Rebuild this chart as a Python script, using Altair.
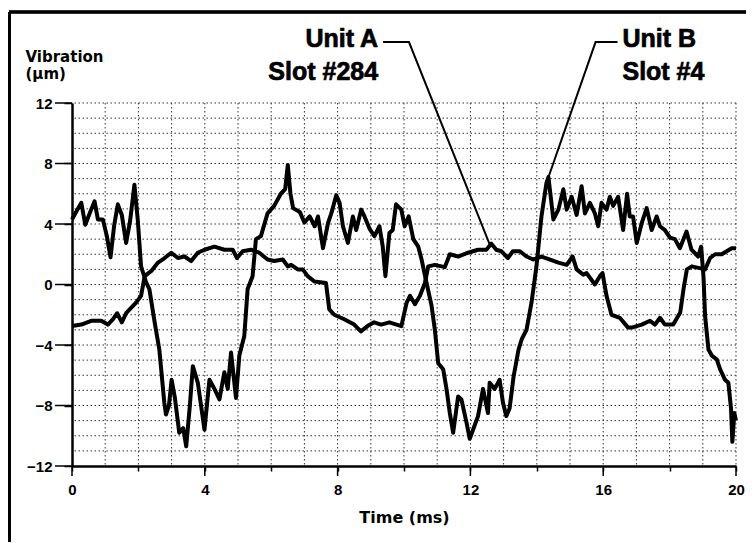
import altair as alt
import pandas as pd

# ---- Unit A, Slot #284 (smoother trace) ----
time_a = [0.0, 0.28, 0.58, 0.88, 1.08, 1.23, 1.36, 1.5, 1.63, 1.78, 1.93, 2.08, 2.19, 2.39,
          2.59, 2.79, 2.99, 3.19, 3.39, 3.59, 3.79, 3.99, 4.29, 4.59, 4.84, 4.97, 5.14, 5.39,
          5.64, 5.89, 6.09, 6.35, 6.5, 6.6, 6.8, 6.95, 7.1, 7.3, 7.65, 7.75, 7.9, 8.2, 8.5,
          8.7, 8.9, 9.1, 9.31, 9.56, 9.92, 10.08, 10.18, 10.33, 10.48, 10.63, 10.73, 10.93,
          11.23, 11.38, 11.63, 11.93, 12.23, 12.48, 12.63, 12.78, 12.93, 13.13, 13.28, 13.49,
          13.69, 13.89, 14.14, 14.4, 14.65, 14.9, 15.08, 15.2, 15.4, 15.5, 15.75, 15.9, 15.98,
          16.1, 16.25, 16.5, 16.75, 16.86, 17.16, 17.41, 17.56, 17.71, 17.86, 18.11, 18.32,
          18.42, 18.52, 18.67, 18.87, 19.07, 19.22, 19.37, 19.57, 19.72, 19.87, 20.0]
vib_a = [-2.75, -2.65, -2.4, -2.4, -2.65, -2.3, -1.9, -2.5, -1.9, -1.55, -1.2, -0.75, 0.55, 0.9,
         1.45, 1.75, 2.1, 1.75, 1.85, 1.55, 2.1, 2.3, 2.5, 2.3, 2.3, 1.75, 2.2, 2.3,
         2.1, 1.65, 1.55, 1.65, 1.2, 1.3, 1.0, 1.0, 0.55, 0.2, 0.1, -1.65, -2.0, -2.3, -2.65,
         -3.1, -2.75, -2.5, -2.65, -2.5, -2.75, -1.2, -0.75, -1.3, -0.75, 0.1, 1.2, 1.3,
         1.15, 2.0, 1.85, 2.1, 2.3, 2.3, 2.7, 2.3, 2.2, 1.75, 2.2, 2.2,
         1.85, 1.65, 1.85, 1.65, 1.45, 1.3, 1.85, 1.0, 0.65, 0.75, 0.0, 0.55, 0.75,
         -0.75, -2.0, -2.2, -2.85, -2.85, -2.65, -2.4, -2.65, -2.2, -2.65, -2.65, -1.85,
         -0.3, 1.0, 1.2, 1.1, 1.0, 1.75, 2.0, 2.0, 2.2, 2.4, 2.4]

# ---- Unit B, Slot #4 (large swing trace) ----
time_b = [0.0, 0.15, 0.28, 0.4, 0.55, 0.68, 0.78, 0.93, 1.05, 1.16, 1.27, 1.38, 1.5, 1.63,
          1.75, 1.88, 1.98, 2.08, 2.24, 2.33, 2.49, 2.63, 2.78, 2.83, 2.92, 3.0, 3.1, 3.23,
          3.35, 3.44, 3.55, 3.64, 3.79, 3.9, 3.99, 4.14, 4.29, 4.44, 4.59, 4.69, 4.79, 4.94,
          5.04, 5.19, 5.29, 5.44, 5.54, 5.69, 5.89, 6.09, 6.29, 6.42, 6.5, 6.58, 6.66, 6.86,
          7.0, 7.16, 7.31, 7.41, 7.56, 7.71, 7.81, 7.96, 8.06, 8.16, 8.31, 8.46, 8.56, 8.71,
          8.81, 8.96, 9.11, 9.26, 9.36, 9.44, 9.56, 9.66, 9.76, 9.92, 10.02, 10.14, 10.28,
          10.43, 10.53, 10.68, 10.83, 10.93, 11.03, 11.18, 11.28, 11.38, 11.48, 11.63, 11.73,
          11.88, 11.98, 12.08, 12.23, 12.38, 12.53, 12.58, 12.73, 12.88, 12.98, 13.08, 13.18,
          13.3, 13.45, 13.55, 13.69, 13.84, 13.99, 14.14, 14.29, 14.35, 14.5, 14.65, 14.8,
          14.9, 15.05, 15.2, 15.35, 15.45, 15.6, 15.75, 15.85, 15.95, 16.1, 16.2, 16.3, 16.45,
          16.6, 16.72, 16.8, 16.9, 17.01, 17.16, 17.31, 17.46, 17.61, 17.71, 17.86, 18.01,
          18.16, 18.31, 18.51, 18.66, 18.86, 18.95, 19.02, 19.07, 19.17, 19.27, 19.42, 19.52,
          19.67, 19.77, 19.85, 19.89, 19.95, 20.0]
vib_b = [4.3, 4.9, 5.4, 3.95, 4.8, 5.5, 4.3, 4.3, 3.2, 1.8, 3.9, 5.3, 4.6, 2.75,
         4.2, 6.6, 4.3, 1.2, 0.1, -0.3, -2.5, -4.3, -7.8, -8.6, -8.0, -6.3, -7.5, -9.8,
         -9.5, -10.7, -8.0, -5.4, -6.5, -8.2, -9.6, -6.3, -6.9, -7.6, -5.8, -6.9, -4.5, -7.5,
         -4.7, -3.4, -0.3, 0.55, 3.0, 3.2, 4.7, 5.2, 6.0, 6.3, 7.9, 6.0, 5.05, 4.8,
         4.1, 4.5, 3.85, 4.5, 2.4, 4.05, 4.7, 5.9, 5.4, 3.85, 2.75, 4.5, 3.6, 4.95,
         4.5, 3.7, 3.2, 3.85, 2.5, 0.55, 3.4, 3.6, 5.3, 4.95, 3.85, 4.5, 3.0,
         2.5, 1.65, 0.1, -1.4, -3.0, -5.2, -5.6, -6.9, -8.5, -9.8, -7.4, -7.6,
         -9.1, -10.2, -9.6, -8.7, -6.9, -8.5, -6.5, -6.9, -6.3, -7.8, -8.7, -8.2,
         -6.1, -4.3, -3.6, -3.0, -1.2, 1.2, 4.5, 6.7, 7.1, 4.3, 4.95, 6.3,
         4.95, 5.8, 4.6, 6.5, 4.7, 5.4, 4.7, 3.85, 5.4, 4.95, 5.8, 5.2, 5.8,
         3.6, 6.0, 4.5, 4.5, 2.75, 4.05, 5.05, 3.6, 4.5, 3.85, 3.6, 3.1,
         3.0, 2.4, 3.5, 2.3, 1.85, 2.5, 0.55, -2.1, -4.3, -4.7, -4.95, -5.6,
         -6.3, -6.5, -8.2, -10.4, -8.5, -9.0]

# ---- axes ----
x_ticks = list(range(0, 21))
y_ticks = list(range(-12, 13))
x_major = [0, 4, 8, 12, 16, 20]
y_major = [-12, -8, -4, 0, 4, 8, 12]

# ---- annotations (data coordinates) ----
ann_r_text = ["Unit A", "Slot #284"]
ann_r_t = [9.22, 9.22]
ann_r_v = [15.70, 13.52]
ann_l_text = ["Unit B", "Slot #4"]
ann_l_t = [16.58, 16.58]
ann_l_v = [15.70, 13.52]
leader_a_t = [9.37, 10.15, 12.61]
leader_a_v = [16.03, 16.03, 2.48]
leader_b_t = [16.43, 15.77, 14.29]
leader_b_v = [16.03, 16.03, 6.71]

W, H = 664, 363

df = pd.concat([
    pd.DataFrame({"t": time_a, "v": vib_a, "unit": "Unit A"}),
    pd.DataFrame({"t": time_b, "v": vib_b, "unit": "Unit B"}),
])
lead = pd.concat([
    pd.DataFrame({"t": leader_a_t, "v": leader_a_v, "k": "A", "i": [0, 1, 2]}),
    pd.DataFrame({"t": leader_b_t, "v": leader_b_v, "k": "B", "i": [0, 1, 2]}),
])
ann_r = pd.DataFrame({"text": ann_r_text, "t": ann_r_t, "v": ann_r_v})
ann_l = pd.DataFrame({"text": ann_l_text, "t": ann_l_t, "v": ann_l_v})
ymaj = pd.DataFrame({"v": y_major})
xmaj = pd.DataFrame({"t": x_major})
xgrid = pd.DataFrame({"t": x_ticks[1:]})
ygrid = pd.DataFrame({"v": y_ticks[1:]})

xs = alt.Scale(domain=[0, 20], nice=False, zero=False)
ys = alt.Scale(domain=[-12, 12], nice=False, zero=False)

lab = "datum.value % 4 === 0 ? datum.label : ''"

x_axis = alt.Axis(
    values=x_ticks, labelExpr=lab, tickSize=5, tickColor="black", tickWidth=1.5,
    domainColor="black", domainWidth=2.5, grid=False,
    labelFont="Liberation Sans", labelFontWeight="bold", labelFontSize=15,
    labelColor="black", labelPadding=11, labelFlush=False, labelOverlap=False,
    title="Time (ms)", titleFont="DejaVu Sans", titleFontSize=16, titleFontWeight="bold",
    titleColor="black", titleBaseline="alphabetic", titleY=56, titleX=W / 2,
    titleAlign="center",
)
y_axis = alt.Axis(
    values=y_ticks, labelExpr=lab, tickSize=8, tickColor="black", tickWidth=1.5,
    domainColor="black", domainWidth=2.5, grid=False,
    labelFont="Liberation Sans", labelFontWeight="bold", labelFontSize=15,
    labelColor="black", labelPadding=12, labelOverlap=False, labelFlush=False,
    title=["Vibration", "(μm)"], titleAngle=0, titleAlign="left",
    titleBaseline="alphabetic", titleX=-47, titleY=-42, titleFont="DejaVu Sans",
    titleFontSize=15, titleFontWeight="bold", titleColor="black", titleLineHeight=17,
)

grid_style = dict(color="#333333", strokeWidth=1, strokeDash=[1.5, 2.5])
vgrid = alt.Chart(xgrid).mark_rule(**grid_style).encode(x=alt.X("t:Q", scale=xs))
hgrid = alt.Chart(ygrid).mark_rule(**grid_style).encode(y=alt.Y("v:Q", scale=ys))

lines = alt.Chart(df).mark_line(color="black", strokeWidth=4, strokeJoin="round").encode(
    x=alt.X("t:Q", scale=xs, axis=x_axis),
    y=alt.Y("v:Q", scale=ys, axis=y_axis),
    detail="unit:N",
    order="t:Q",
)

ytick_major = alt.Chart(ymaj).mark_rule(color="black", strokeWidth=1.5).encode(
    y=alt.Y("v:Q", scale=ys), x=alt.value(-17), x2=alt.value(0)
)
xtick_major = alt.Chart(xmaj).mark_rule(color="black", strokeWidth=1.5).encode(
    x=alt.X("t:Q", scale=xs), y=alt.value(H), y2=alt.value(H + 10)
)

leaders = alt.Chart(lead).mark_line(color="black", strokeWidth=2).encode(
    x=alt.X("t:Q", scale=xs), y=alt.Y("v:Q", scale=ys), detail="k:N", order="i:Q"
)

txt_style = dict(baseline="alphabetic", font="Liberation Sans", fontSize=25,
                 fontWeight="bold", color="black", stroke="black", strokeWidth=0.7)
texts_r = alt.Chart(ann_r).mark_text(align="right", **txt_style).encode(
    x=alt.X("t:Q", scale=xs), y=alt.Y("v:Q", scale=ys), text="text:N"
)
texts_l = alt.Chart(ann_l).mark_text(align="left", **txt_style).encode(
    x=alt.X("t:Q", scale=xs), y=alt.Y("v:Q", scale=ys), text="text:N"
)

frame_left = alt.Chart(xmaj).mark_rule(color="black", strokeWidth=3).encode(
    x=alt.value(-63), y=alt.value(-91), y2=alt.value(H + 90)
)
frame_top = alt.Chart(xmaj).mark_rule(color="black", strokeWidth=2.5).encode(
    x=alt.value(-63), x2=alt.value(W + 40), y=alt.value(-91)
)

chart = alt.layer(
    vgrid, hgrid, lines, ytick_major, xtick_major, leaders, texts_r, texts_l,
    frame_left, frame_top
).properties(
    width=W, height=H,
    autosize=alt.AutoSizeParams(type="none"),
    padding={"left": 64, "top": 95, "right": 10, "bottom": 76},
    background="white",
).configure_view(stroke=None)

chart.save("out.html", embed_options={"renderer": "svg", "actions": False})
